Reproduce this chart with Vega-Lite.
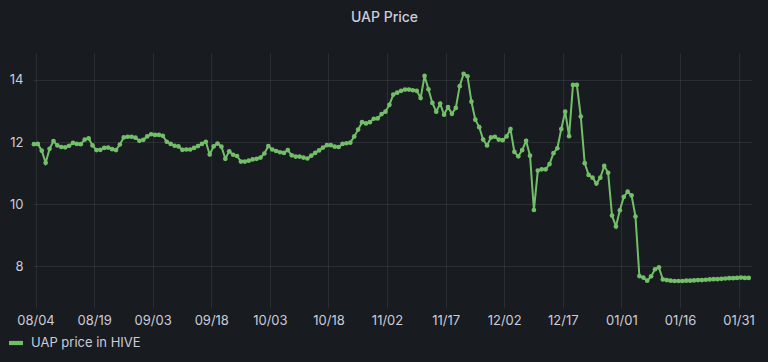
{
  "$schema": "https://vega.github.io/schema/vega-lite/v6.json",
  "autosize": {"type": "none"},
  "width": 719,
  "height": 255,
  "padding": {"left": 33, "top": 53, "right": 16, "bottom": 54},
  "background": "#181b1f",
  "title": {"text": "UAP Price", "color": "#ccccdc", "font": "Inter", "fontSize": 14, "fontWeight": 500, "anchor": "middle", "offset": 28, "dx": -8},
  "config": {
    "view": {"stroke": null},
    "axis": {"labelFont": "Inter", "labelFontSize": 13, "labelColor": "#ccccdc", "gridColor": "#ccccdc", "gridOpacity": 0.1, "domain": false, "ticks": false, "title": null}
  },
  "data": {"values": [
    {"t":"2021-08-03T14:24Z","v":11.93},{"t":"2021-08-04T14:24Z","v":11.94},{"t":"2021-08-05T14:24Z","v":11.72},{"t":"2021-08-06T14:24Z","v":11.33},{"t":"2021-08-07T14:24Z","v":11.78},
    {"t":"2021-08-08T14:24Z","v":12.03},{"t":"2021-08-09T14:24Z","v":11.89},{"t":"2021-08-10T14:24Z","v":11.84},{"t":"2021-08-11T14:24Z","v":11.83},{"t":"2021-08-12T14:24Z","v":11.88},
    {"t":"2021-08-13T14:24Z","v":11.97},{"t":"2021-08-14T14:24Z","v":11.94},{"t":"2021-08-15T14:24Z","v":11.93},{"t":"2021-08-16T14:24Z","v":12.08},{"t":"2021-08-17T14:24Z","v":12.12},
    {"t":"2021-08-18T14:24Z","v":11.89},{"t":"2021-08-19T14:24Z","v":11.74},{"t":"2021-08-20T14:24Z","v":11.75},{"t":"2021-08-21T14:24Z","v":11.81},{"t":"2021-08-22T14:24Z","v":11.82},
    {"t":"2021-08-23T14:24Z","v":11.77},{"t":"2021-08-24T14:24Z","v":11.74},{"t":"2021-08-25T14:24Z","v":11.92},{"t":"2021-08-26T14:24Z","v":12.15},{"t":"2021-08-27T14:24Z","v":12.17},
    {"t":"2021-08-28T14:24Z","v":12.17},{"t":"2021-08-29T14:24Z","v":12.14},{"t":"2021-08-30T14:24Z","v":12.04},{"t":"2021-08-31T14:24Z","v":12.07},{"t":"2021-09-01T14:24Z","v":12.18},
    {"t":"2021-09-02T14:24Z","v":12.25},{"t":"2021-09-03T14:24Z","v":12.23},{"t":"2021-09-04T14:24Z","v":12.23},{"t":"2021-09-05T14:24Z","v":12.2},{"t":"2021-09-06T14:24Z","v":12.01},
    {"t":"2021-09-07T14:24Z","v":11.94},{"t":"2021-09-08T14:24Z","v":11.88},{"t":"2021-09-09T14:24Z","v":11.86},{"t":"2021-09-10T14:24Z","v":11.75},{"t":"2021-09-11T14:24Z","v":11.76},
    {"t":"2021-09-12T14:24Z","v":11.76},{"t":"2021-09-13T14:24Z","v":11.81},{"t":"2021-09-14T14:24Z","v":11.87},{"t":"2021-09-15T14:24Z","v":11.94},{"t":"2021-09-16T14:24Z","v":12.01},
    {"t":"2021-09-17T14:24Z","v":11.6},{"t":"2021-09-18T14:24Z","v":11.86},{"t":"2021-09-19T14:24Z","v":11.95},{"t":"2021-09-20T14:24Z","v":11.85},{"t":"2021-09-21T14:24Z","v":11.46},
    {"t":"2021-09-22T14:24Z","v":11.7},{"t":"2021-09-23T14:24Z","v":11.59},{"t":"2021-09-24T14:24Z","v":11.55},{"t":"2021-09-25T14:24Z","v":11.37},{"t":"2021-09-26T14:24Z","v":11.37},
    {"t":"2021-09-27T14:24Z","v":11.4},{"t":"2021-09-28T14:24Z","v":11.44},{"t":"2021-09-29T14:24Z","v":11.46},{"t":"2021-09-30T14:24Z","v":11.5},{"t":"2021-10-01T14:24Z","v":11.63},
    {"t":"2021-10-02T14:24Z","v":11.87},{"t":"2021-10-03T14:24Z","v":11.76},{"t":"2021-10-04T14:24Z","v":11.71},{"t":"2021-10-05T14:24Z","v":11.67},{"t":"2021-10-06T14:24Z","v":11.65},
    {"t":"2021-10-07T14:24Z","v":11.74},{"t":"2021-10-08T14:24Z","v":11.57},{"t":"2021-10-09T14:24Z","v":11.53},{"t":"2021-10-10T14:24Z","v":11.53},{"t":"2021-10-11T14:24Z","v":11.5},
    {"t":"2021-10-12T14:24Z","v":11.47},{"t":"2021-10-13T14:24Z","v":11.56},{"t":"2021-10-14T14:24Z","v":11.65},{"t":"2021-10-15T14:24Z","v":11.73},{"t":"2021-10-16T14:24Z","v":11.82},
    {"t":"2021-10-17T14:24Z","v":11.9},{"t":"2021-10-18T14:24Z","v":11.9},{"t":"2021-10-19T14:24Z","v":11.85},{"t":"2021-10-20T14:24Z","v":11.84},{"t":"2021-10-21T14:24Z","v":11.94},
    {"t":"2021-10-22T14:24Z","v":11.96},{"t":"2021-10-23T14:24Z","v":11.98},{"t":"2021-10-24T14:24Z","v":12.18},{"t":"2021-10-25T14:24Z","v":12.4},{"t":"2021-10-26T14:24Z","v":12.64},
    {"t":"2021-10-27T14:24Z","v":12.6},{"t":"2021-10-28T14:24Z","v":12.64},{"t":"2021-10-29T14:24Z","v":12.75},{"t":"2021-10-30T14:24Z","v":12.76},{"t":"2021-10-31T14:24Z","v":12.9},
    {"t":"2021-11-01T14:24Z","v":12.98},{"t":"2021-11-02T14:24Z","v":13.2},{"t":"2021-11-03T14:24Z","v":13.53},{"t":"2021-11-04T14:24Z","v":13.59},{"t":"2021-11-05T14:24Z","v":13.65},
    {"t":"2021-11-06T14:24Z","v":13.69},{"t":"2021-11-07T14:24Z","v":13.69},{"t":"2021-11-08T14:24Z","v":13.67},{"t":"2021-11-09T14:24Z","v":13.65},{"t":"2021-11-10T14:24Z","v":13.42},
    {"t":"2021-11-11T14:24Z","v":14.13},{"t":"2021-11-12T14:24Z","v":13.7},{"t":"2021-11-13T14:24Z","v":13.26},{"t":"2021-11-14T14:24Z","v":12.98},{"t":"2021-11-15T14:24Z","v":13.24},
    {"t":"2021-11-16T14:24Z","v":12.88},{"t":"2021-11-17T14:24Z","v":13.13},{"t":"2021-11-18T14:24Z","v":12.91},{"t":"2021-11-19T14:24Z","v":13.1},{"t":"2021-11-20T14:24Z","v":13.8},
    {"t":"2021-11-21T14:24Z","v":14.2},{"t":"2021-11-22T14:24Z","v":14.12},{"t":"2021-11-23T14:24Z","v":13.3},{"t":"2021-11-24T14:24Z","v":12.72},{"t":"2021-11-25T14:24Z","v":12.48},
    {"t":"2021-11-26T14:24Z","v":12.08},{"t":"2021-11-27T14:24Z","v":11.89},{"t":"2021-11-28T14:24Z","v":12.15},{"t":"2021-11-29T14:24Z","v":12.17},{"t":"2021-11-30T14:24Z","v":12.08},
    {"t":"2021-12-01T14:24Z","v":12.06},{"t":"2021-12-02T14:24Z","v":12.18},{"t":"2021-12-03T14:24Z","v":12.42},{"t":"2021-12-04T14:24Z","v":11.68},{"t":"2021-12-05T14:24Z","v":11.54},
    {"t":"2021-12-06T14:24Z","v":11.74},{"t":"2021-12-07T14:24Z","v":12.04},{"t":"2021-12-08T14:24Z","v":11.56},{"t":"2021-12-09T14:24Z","v":9.81},{"t":"2021-12-10T14:24Z","v":11.08},
    {"t":"2021-12-11T14:24Z","v":11.12},{"t":"2021-12-12T14:24Z","v":11.12},{"t":"2021-12-13T14:24Z","v":11.29},{"t":"2021-12-14T14:24Z","v":11.64},{"t":"2021-12-15T14:24Z","v":11.8},
    {"t":"2021-12-16T14:24Z","v":12.42},{"t":"2021-12-17T14:24Z","v":12.98},{"t":"2021-12-18T14:24Z","v":12.19},{"t":"2021-12-19T14:24Z","v":13.84},{"t":"2021-12-20T14:24Z","v":13.84},
    {"t":"2021-12-21T14:24Z","v":12.82},{"t":"2021-12-22T14:24Z","v":11.32},{"t":"2021-12-23T14:24Z","v":10.94},{"t":"2021-12-24T14:24Z","v":10.85},{"t":"2021-12-25T14:24Z","v":10.66},
    {"t":"2021-12-26T14:24Z","v":10.85},{"t":"2021-12-27T14:24Z","v":11.23},{"t":"2021-12-28T14:24Z","v":11.01},{"t":"2021-12-29T14:24Z","v":9.63},{"t":"2021-12-30T14:24Z","v":9.28},
    {"t":"2021-12-31T14:24Z","v":9.8},{"t":"2022-01-01T14:24Z","v":10.23},{"t":"2022-01-02T14:24Z","v":10.4},{"t":"2022-01-03T14:24Z","v":10.28},{"t":"2022-01-04T14:24Z","v":9.6},
    {"t":"2022-01-05T14:24Z","v":7.68},{"t":"2022-01-06T14:24Z","v":7.63},{"t":"2022-01-07T14:24Z","v":7.53},{"t":"2022-01-08T14:24Z","v":7.67},{"t":"2022-01-09T14:24Z","v":7.9},
    {"t":"2022-01-10T14:24Z","v":7.96},{"t":"2022-01-11T14:24Z","v":7.57},{"t":"2022-01-12T14:24Z","v":7.55},{"t":"2022-01-13T14:24Z","v":7.53},{"t":"2022-01-14T14:24Z","v":7.52},
    {"t":"2022-01-15T14:24Z","v":7.52},{"t":"2022-01-16T14:24Z","v":7.52},{"t":"2022-01-17T14:24Z","v":7.53},{"t":"2022-01-18T14:24Z","v":7.53},{"t":"2022-01-19T14:24Z","v":7.54},
    {"t":"2022-01-20T14:24Z","v":7.55},{"t":"2022-01-21T14:24Z","v":7.55},{"t":"2022-01-22T14:24Z","v":7.56},{"t":"2022-01-23T14:24Z","v":7.57},{"t":"2022-01-24T14:24Z","v":7.58},
    {"t":"2022-01-25T14:24Z","v":7.58},{"t":"2022-01-26T14:24Z","v":7.59},{"t":"2022-01-27T14:24Z","v":7.6},{"t":"2022-01-28T14:24Z","v":7.61},{"t":"2022-01-29T14:24Z","v":7.61},
    {"t":"2022-01-30T14:24Z","v":7.62},{"t":"2022-01-31T14:24Z","v":7.63},{"t":"2022-02-01T14:24Z","v":7.62},{"t":"2022-02-02T14:24Z","v":7.62}
  ]},
  "encoding": {
    "x": {"field": "t", "type": "temporal",
      "scale": {"type": "utc", "domain": [{"year": 2021, "month": 8, "date": 3, "hours": 8, "minutes": 38, "utc": true}, {"year": 2022, "month": 2, "date": 3, "hours": 10, "minutes": 20, "utc": true}]},
      "axis": {"values": [
        {"year": 2021, "month": 8, "date": 4, "utc": true}, {"year": 2021, "month": 8, "date": 19, "utc": true},
        {"year": 2021, "month": 9, "date": 3, "utc": true}, {"year": 2021, "month": 9, "date": 18, "utc": true},
        {"year": 2021, "month": 10, "date": 3, "utc": true}, {"year": 2021, "month": 10, "date": 18, "utc": true},
        {"year": 2021, "month": 11, "date": 2, "utc": true}, {"year": 2021, "month": 11, "date": 17, "utc": true},
        {"year": 2021, "month": 12, "date": 2, "utc": true}, {"year": 2021, "month": 12, "date": 17, "utc": true},
        {"year": 2022, "month": 1, "date": 1, "utc": true}, {"year": 2022, "month": 1, "date": 16, "utc": true},
        {"year": 2022, "month": 1, "date": 31, "utc": true}],
        "labelExpr": "utcFormat(datum.value, '%m/%d')", "labelPadding": 6, "labelFlush": false, "labelOverlap": false}},
    "y": {"field": "v", "type": "quantitative",
      "scale": {"domain": [6.65, 14.87], "nice": false, "zero": false},
      "axis": {"values": [8, 10, 12, 14], "labelPadding": 10}}
  },
  "layer": [
    {"mark": {"type": "line", "strokeWidth": 2, "interpolate": "linear"},
     "encoding": {"color": {"datum": "UAP price in HIVE", "type": "nominal",
       "scale": {"range": ["#73bf69"]},
       "legend": {"title": null, "orient": "none", "legendX": -24, "legendY": 283, "labelFont": "Inter", "labelFontSize": 13, "labelColor": "#ccccdc",
         "symbolType": "M-1,-0.3L1,-0.3L1,0.3L-1,0.3Z", "symbolSize": 196, "symbolStrokeWidth": 0, "symbolFillColor": "#73bf69", "labelOffset": 8, "padding": 0}}}},
    {"mark": {"type": "point", "filled": true, "size": 22, "color": "#73bf69", "opacity": 1}}
  ]
}
